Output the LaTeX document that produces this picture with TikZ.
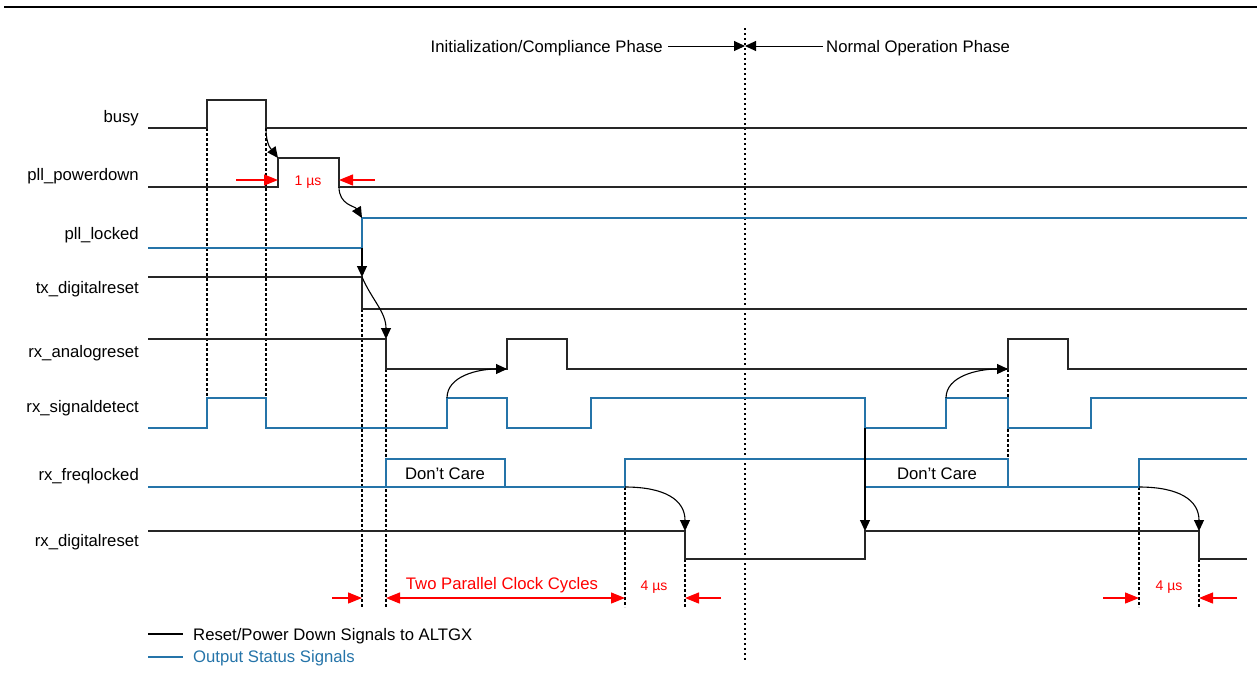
\documentclass[tikz,border=0pt]{standalone}
\usepackage{fontspec}
\setmainfont{Liberation Sans}
\usetikzlibrary{arrows.meta}
\definecolor{cStat}{HTML}{2574A9}
\definecolor{cDim}{HTML}{FF0000}

\begin{document}
\begin{tikzpicture}[x=1pt,y=-1pt,font=\fontsize{16.7}{19}\selectfont,
  sig/.style={line width=1.3pt,black!85},
  stat/.style={line width=1.3pt,cStat},
  cause/.style={line width=1.1pt,-{Triangle[length=11pt,width=10pt]}},
  gapline/.style={line width=2.5pt,dash pattern=on 2.5pt off 2.5pt},
  dimarrow/.style={cDim,line width=1.3pt,-{Triangle[length=14pt,width=11pt]}},
  lbl/.style={inner sep=0pt},
  smalltxt/.style={inner sep=0pt,text=cDim,font=\fontsize{14}{16}\selectfont}]
\path[use as bounding box] (0,0) rectangle (1257,681);
\draw[line width=2.5pt] (4,7) -- (1257,7);
\foreach \y/\n/\txt in {122/busy/busy,180/pd/pll\_powerdown,239/lock/pll\_locked,
  293/txr/tx\_digitalreset,357/anr/rx\_analogreset,412/sd/rx\_signaldetect,
  480/fl/rx\_freqlocked,546/dgr/rx\_digitalreset}{
  \node[lbl,anchor=base east] (l\n) at (139,\y) {\txt};
}
\coordinate (phase) at (745,46);
\coordinate (initend) at (668,46);
\coordinate (normend) at (823,46);
\node[lbl,anchor=base east] (init) at (663,52) {Initialization/Compliance Phase};
\node[lbl,anchor=base west] (norm) at (826,52) {Normal Operation Phase};
\draw[line width=1pt,-{Triangle[length=11pt,width=10pt]}] (initend) -- (phase);
\draw[line width=1pt,-{Triangle[length=11pt,width=10pt]}] (normend) -- (phase);
\draw[gapline,line width=2pt,dash pattern=on 2pt off 3pt] (745,28) -- (745,660);
\foreach \x/\a/\b in {207/128/398,266/128/398,362/309/607,386/369/607,625/487/607,
  685/559/607,1008/369/459,1139/487/607,1199/559/607}{
  \draw[gapline] (\x,\a) -- (\x,\b);
}
\draw[sig] (148,128) -| (207,100) -| (266,128) -- (1247,128);
\draw[sig] (148,187) -| (278,158) -| (339,187) -- (1247,187);
\draw[stat] (148,248) -| (362,218) -- (1247,218);
\draw[sig] (148,277) -| (362,309) -- (1247,309);
\draw[sig] (148,339) -| (386,369) -| (507,339) -| (567,369) -| (1008,339) -| (1068,369) -- (1247,369);
\draw[stat] (148,428) -| (207,398) -| (266,428) -| (447,398) -| (507,428) -| (591,398)
  -| (865,428) -| (946,398) -| (1008,428) -| (1091,398) -- (1247,398);
\draw[stat] (148,487) -| (625,459) -| (1008,487);
\draw[stat] (865,487) -| (1139,459) -- (1247,459);
\draw[stat] (386,459) rectangle (505,487);
\draw[sig] (148,531) -| (685,559) -| (865,531) -| (1199,559) -- (1247,559);
\node[lbl,anchor=base] (dc1) at (445,479) {Don’t Care};
\node[lbl,anchor=base] (dc2) at (937,479) {Don’t Care};
\coordinate (busyfall) at (266,128);
\coordinate (pdrise) at (278,158);
\coordinate (pdfall) at (339,187);
\coordinate (lockrise) at (362,218);
\coordinate (locklow) at (362,248);
\coordinate (txfall) at (362,277);
\coordinate (anfall) at (386,339);
\coordinate (sdrise) at (447,398);
\coordinate (anrise) at (507,369);
\coordinate (flrise) at (625,487);
\coordinate (dgfall) at (685,531);
\coordinate (sdfall) at (865,428);
\coordinate (dgrise) at (865,531);
\coordinate (sdrisetwo) at (946,398);
\coordinate (anrisetwo) at (1008,369);
\coordinate (flrisetwo) at (1139,487);
\coordinate (dgfalltwo) at (1199,531);
\draw[cause] (busyfall) .. controls (266,146) and (272,150) .. (pdrise);
\draw[cause] (pdfall) .. controls (339,205) and (355,206) .. (lockrise);
\draw[cause] (locklow) -- (txfall);
\draw[cause] (txfall) .. controls (372,300) and (386,312) .. (anfall);
\draw[cause] (sdrise) .. controls (447,376) and (478,369) .. (anrise);
\draw[cause] (flrise) .. controls (665,487) and (685,500) .. (dgfall);
\draw[cause] (sdfall) -- (dgrise);
\draw[cause] (sdrisetwo) .. controls (946,376) and (978,369) .. (anrisetwo);
\draw[cause] (flrisetwo) .. controls (1179,487) and (1199,500) .. (dgfalltwo);
\coordinate (usl) at (236,180);
\coordinate (usr) at (375,180);
\draw[dimarrow] (usl) -- (pdrise |- usl);
\draw[dimarrow] (usr) -- (pdfall |- usr);
\node[smalltxt,anchor=base] (us) at (308,185) {1 µs};
\coordinate (ppl) at (332,598);
\coordinate (ppa) at (386,598);
\coordinate (ppb) at (625,598);
\coordinate (fur) at (721,598);
\draw[dimarrow] (ppl) -- (362,598);
\draw[dimarrow,{Triangle[length=14pt,width=11pt]}-{Triangle[length=14pt,width=11pt]}] (ppa) -- (ppb);
\node[lbl,anchor=base,text=cDim] (pcc) at (502,589) {Two Parallel Clock Cycles};
\node[smalltxt,anchor=base] (fus) at (654,590) {4 µs};
\draw[dimarrow] (fur) -- (685,598);
\coordinate (ful) at (1103,598);
\coordinate (furtwo) at (1237,598);
\draw[dimarrow] (ful) -- (1139,598);
\node[smalltxt,anchor=base] (fustwo) at (1169,590) {4 µs};
\draw[dimarrow] (furtwo) -- (1199,598);
\draw[sig,black] (148,634) -- (183,634);
\node[lbl,anchor=base west] (legsig) at (193,640) {Reset/Power Down Signals to ALTGX};
\draw[stat] (148,657) -- (183,657);
\node[lbl,anchor=base west,text=cStat] (legstat) at (193,662) {Output Status Signals};
\end{tikzpicture}
\end{document}
